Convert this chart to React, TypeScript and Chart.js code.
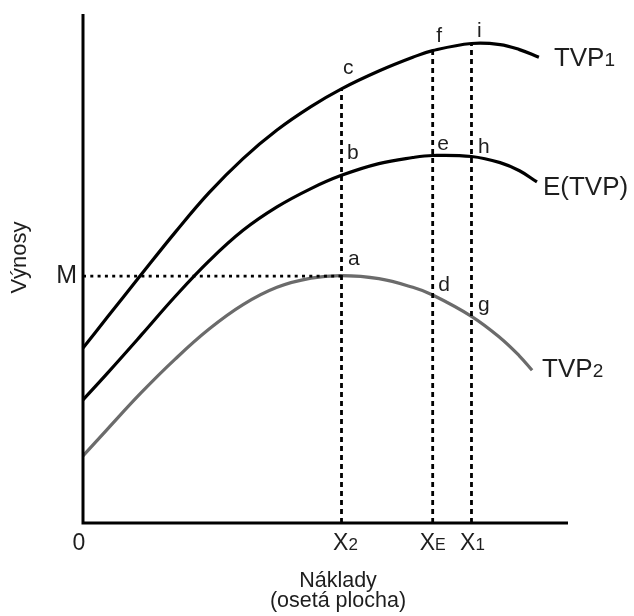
import React, { useEffect, useRef } from "react";
import { Chart, registerables } from "chart.js";

Chart.register(...registerables);

// ---- data (cost axis in % of axis length, yield axis in % of axis height) ----
const costs = [0, 5, 12, 19, 26, 33, 40, 47, 53.3, 61, 68, 72.1, 80.1, 86, 90];
const costsTVP1 = [...costs, 94];
const costsETVP = [...costs, 93.6];
const costsTVP2 = [...costs, 92.6];

const tvp1 = [34.4, 40.4, 48.8, 57.1, 64.9, 71.6, 77.2, 81.8, 85.3, 88.8, 91.5, 92.8, 94.2, 94.0, 93.0, 91.5];
const etvp = [24.2, 29.4, 36.9, 44.5, 51.5, 57.5, 62.1, 65.7, 68.3, 70.6, 71.8, 72.2, 72.0, 70.8, 69.2, 67.0];
const tvp2 = [13.2, 18.4, 25.6, 32.2, 38.1, 42.9, 46.3, 48.1, 48.6, 48.0, 46.3, 44.8, 40.6, 36.4, 32.8, 30.0];

const X2 = 53.3;
const XE = 72.1;
const X1 = 80.1;
const M = 48.5;

const xTickValues = [X2, XE, X1];
const xTickMain = ["X", "X", "X"];
const xTickSub = ["2", "E", "1"];

const curveNames = ["TVP", "E(TVP)", "TVP"];
const curveSubs = ["1", "", "2"];

const pointLetters = ["a", "b", "c", "d", "e", "f", "g", "h", "i"];

const FONT = '"Liberation Sans", Arial, Helvetica, sans-serif';
const TEXT = "#1e1e1e";

const at = (xs: number[], ys: number[], xv: number) => ys[xs.indexOf(xv)];
const pts = (xs: number[], ys: number[]) => xs.map((x, i) => ({ x, y: ys[i] }));

function drawParts(
  ctx: CanvasRenderingContext2D,
  parts: { t: string; size: number }[],
  x: number,
  y: number,
  align: "left" | "center" | "right"
) {
  let w = 0;
  for (const p of parts) {
    ctx.font = `${p.size}px ${FONT}`;
    w += ctx.measureText(p.t).width;
  }
  let sx = align === "center" ? x - w / 2 : align === "right" ? x - w : x;
  ctx.textAlign = "left";
  ctx.textBaseline = "alphabetic";
  for (const p of parts) {
    ctx.font = `${p.size}px ${FONT}`;
    ctx.fillText(p.t, sx, y);
    sx += ctx.measureText(p.t).width;
  }
}

const annotations = {
  id: "annotations",
  afterDatasetsDraw(chart: any) {
    const { ctx, scales, chartArea } = chart;
    const xs = scales.x;
    const ys = scales.y;
    const px = (v: number) => xs.getPixelForValue(v);
    const py = (v: number) => ys.getPixelForValue(v);
    ctx.save();

    // axes
    ctx.strokeStyle = "#000";
    ctx.lineWidth = 3;
    ctx.setLineDash([]);
    ctx.beginPath();
    ctx.moveTo(px(0), py(100));
    ctx.lineTo(px(0), py(0));
    ctx.lineTo(px(100), py(0));
    ctx.stroke();

    ctx.fillStyle = TEXT;

    // origin and x ticks
    drawParts(ctx, [{ t: "0", size: 23 }], px(0) - 4, py(0) + 27, "center");
    const tickDx = [4, 0, 1];
    xTickValues.forEach((v, i) => {
      drawParts(
        ctx,
        [
          { t: xTickMain[i], size: 23 },
          { t: xTickSub[i], size: xTickSub[i] === "E" ? 16 : 17 },
        ],
        px(v) + tickDx[i],
        py(0) + 27,
        "center"
      );
    });

    // M label
    drawParts(ctx, [{ t: "M", size: 25 }], px(0) - 6, py(M) + 7, "right");

    // axis titles
    ctx.font = `21.5px ${FONT}`;
    ctx.textAlign = "center";
    ctx.textBaseline = "alphabetic";
    const cx = chartArea.left + 255;
    ctx.fillText("Náklady", cx, chartArea.bottom + 64);
    ctx.fillText("(osetá plocha)", cx, chartArea.bottom + 84);

    ctx.save();
    ctx.translate(chartArea.left - 63, (chartArea.top + chartArea.bottom) / 2 - 11);
    ctx.rotate(-Math.PI / 2);
    ctx.font = `22px ${FONT}`;
    ctx.textAlign = "center";
    ctx.textBaseline = "middle";
    ctx.fillText("Výnosy", 0, 0);
    ctx.restore();

    // point letters
    const anchors = [
      { x: X2, y: M, dx: 6.5, dy: -11 },
      { x: X2, y: at(costsETVP, etvp, X2), dx: 5.5, dy: -16 },
      { x: X2, y: at(costsTVP1, tvp1, X2), dx: 1.5, dy: -15 },
      { x: XE, y: at(costsTVP2, tvp2, XE), dx: 5.5, dy: -4 },
      { x: XE, y: at(costsETVP, etvp, XE), dx: 4.5, dy: -6 },
      { x: XE, y: at(costsTVP1, tvp1, XE), dx: 3.5, dy: -9 },
      { x: X1, y: at(costsTVP2, tvp2, X1), dx: 6.5, dy: -5 },
      { x: X1, y: at(costsETVP, etvp, X1), dx: 6.5, dy: -4 },
      { x: X1, y: at(costsTVP1, tvp1, X1), dx: 5.5, dy: -7 },
    ];
    anchors.forEach((a, i) => {
      drawParts(ctx, [{ t: pointLetters[i], size: 21 }], px(a.x) + a.dx, py(a.y) + a.dy, "left");
    });

    // curve labels
    const ends = [
      { x: costsTVP1[costsTVP1.length - 1], y: tvp1[tvp1.length - 1], dx: 15, dy: 9 },
      { x: costsETVP[costsETVP.length - 1], y: etvp[etvp.length - 1], dx: 6, dy: 13 },
      { x: costsTVP2[costsTVP2.length - 1], y: tvp2[tvp2.length - 1], dx: 10, dy: 7 },
    ];
    ends.forEach((e, i) => {
      const parts = [{ t: curveNames[i], size: 26 }];
      if (curveSubs[i]) parts.push({ t: curveSubs[i], size: 19 });
      drawParts(ctx, parts, px(e.x) + e.dx, py(e.y) + e.dy, "left");
    });

    ctx.restore();
  },
};

export default function App() {
  const ref = useRef<HTMLCanvasElement | null>(null);

  useEffect(() => {
    if (!ref.current) return;
    const curve = (data: any, color: string) => ({
      data,
      borderColor: color,
      borderWidth: 3.2,
      pointRadius: 0,
      fill: false,
      tension: 0.4,
      clip: false as const,
      borderCapStyle: "butt" as const,
    });
    const guide = (data: any, dash: number[]) => ({
      data,
      borderColor: "#000",
      borderWidth: 2.8,
      borderDash: dash,
      pointRadius: 0,
      fill: false,
      tension: 0,
      clip: false as const,
    });

    const chart = new Chart(ref.current, {
      type: "line",
      data: {
        datasets: [
          guide([{ x: X2, y: 0 }, { x: X2, y: at(costsTVP1, tvp1, X2) }], [5, 4]),
          guide([{ x: XE, y: 0 }, { x: XE, y: at(costsTVP1, tvp1, XE) }], [5, 4]),
          guide([{ x: X1, y: 0 }, { x: X1, y: at(costsTVP1, tvp1, X1) }], [5, 4]),
          guide([{ x: 0, y: M }, { x: X2, y: M }], [3, 4.3]),
          curve(pts(costsTVP2, tvp2), "#6b6b6b"),
          curve(pts(costsETVP, etvp), "#000"),
          curve(pts(costsTVP1, tvp1), "#000"),
        ] as any,
      },
      options: {
        animation: false,
        responsive: false,
        devicePixelRatio: 1,
        events: [],
        layout: { padding: { left: 83, right: 66, top: 14, bottom: 93 } },
        plugins: { legend: { display: false }, tooltip: { enabled: false } },
        scales: {
          x: { type: "linear", min: 0, max: 100, display: false },
          y: { type: "linear", min: 0, max: 100, display: false },
        },
      },
      plugins: [annotations],
    });
    return () => chart.destroy();
  }, []);

  return (
    <div style={{ position: "fixed", left: 0, top: 0, width: 634, height: 616, background: "#fff" }}>
      <canvas ref={ref} width={634} height={616} style={{ width: 634, height: 616, display: "block" }} />
    </div>
  );
}
